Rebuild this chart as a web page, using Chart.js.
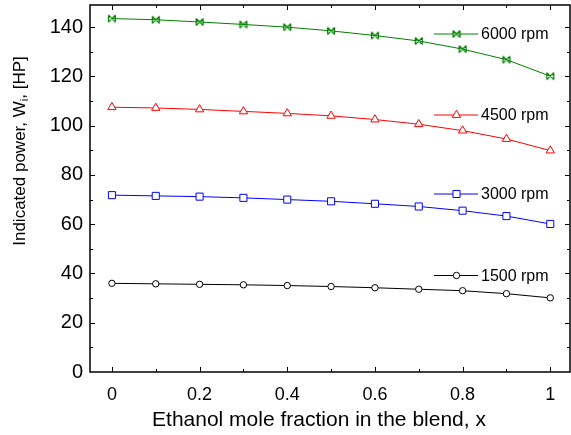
<!DOCTYPE html>
<html>
<head>
<meta charset="utf-8">
<script src="https://cdn.jsdelivr.net/npm/chart.js@4.4.0/dist/chart.umd.min.js"></script>
<style>
  html, body { margin: 0; padding: 0; background: #fff; }
</style>
</head>
<body>
<canvas id="chart" width="571" height="435"></canvas>
<script>
// data
const fractions = [0, 0.1, 0.2, 0.3, 0.4, 0.5, 0.6, 0.7, 0.8, 0.9, 1.0];
const rpm1500 = [36, 35.8, 35.6, 35.4, 35.1, 34.7, 34.2, 33.6, 33, 31.8, 30.1];
const rpm3000 = [71.8, 71.5, 71.2, 70.7, 70, 69.3, 68.3, 67.2, 65.5, 63.3, 60.1];
const rpm4500 = [107.5, 107.2, 106.6, 105.8, 105, 104, 102.5, 100.6, 98, 94.6, 89.9];
const rpm6000 = [143.5, 143, 142.1, 141.1, 140, 138.5, 136.6, 134.4, 131.1, 126.8, 120.1];
const seriesLabels = ["1500 rpm", "3000 rpm", "4500 rpm", "6000 rpm"];
const xTitle = "Ethanol mole fraction in the blend, x";

// bow-tie marker |X| used for the 6000 rpm curve
function bowTie(color) {
  const c = document.createElement("canvas");
  c.width = 10; c.height = 10;
  const g = c.getContext("2d");
  g.strokeStyle = color;
  g.lineWidth = 1.2;
  g.beginPath();
  g.moveTo(1.5, 1.5); g.lineTo(1.5, 8.5);
  g.moveTo(8.5, 1.5); g.lineTo(8.5, 8.5);
  g.moveTo(1.5, 1.5); g.lineTo(8.5, 8.5);
  g.moveTo(1.5, 8.5); g.lineTo(8.5, 1.5);
  g.stroke();
  return c;
}

const green = "#008000";
const styles = [
  { color: "#000000", point: "circle", radius: 3.2, legendY: 275.5 },
  { color: "#0000ff", point: "rect", radius: 5, legendY: 194 },
  { color: "#ff0000", point: "triangle", radius: 4.8, legendY: 115 },
  { color: green, point: bowTie(green), radius: 5, legendY: 34 },
];
const values = [rpm1500, rpm3000, rpm4500, rpm6000];

const datasets = values.map((vals, i) => ({
  label: seriesLabels[i],
  data: fractions.map((f, k) => ({ x: f, y: vals[k] })),
  borderColor: styles[i].color,
  backgroundColor: "#ffffff",
  borderWidth: 1,
  pointStyle: styles[i].point,
  pointRadius: styles[i].radius,
  pointBorderColor: styles[i].color,
  pointBackgroundColor: "#ffffff",
  pointBorderWidth: 1,
  tension: 0,
}));

const framePlugin = {
  id: "frame",
  afterDraw(chart) {
    const ctx = chart.ctx;
    const a = chart.chartArea;
    const xs = chart.scales.x, ys = chart.scales.y;
    ctx.save();
    ctx.strokeStyle = "#000";
    ctx.lineWidth = 1.5;
    ctx.strokeRect(a.left, a.top, a.right - a.left, a.bottom - a.top);

    ctx.lineWidth = 1;
    ctx.beginPath();
    for (let k = 0; k <= 10; k++) {
      const px = Math.round(xs.getPixelForValue(k / 10)) + 0.5;
      const len = k % 2 === 0 ? 5 : 3;
      ctx.moveTo(px, a.bottom); ctx.lineTo(px, a.bottom - len);
      ctx.moveTo(px, a.top); ctx.lineTo(px, a.top + len);
    }
    for (let v = 10; v <= 140; v += 10) {
      const py = Math.round(ys.getPixelForValue(v)) + 0.5;
      const len = v % 20 === 0 ? 5 : 3;
      ctx.moveTo(a.left, py); ctx.lineTo(a.left + len, py);
      ctx.moveTo(a.right, py); ctx.lineTo(a.right - len, py);
    }
    ctx.stroke();

    // legend entries, each next to its own curve
    ctx.font = "16px 'Liberation Sans', Arial, sans-serif";
    ctx.textBaseline = "middle";
    chart.data.datasets.forEach((ds, i) => {
      const y = styles[i].legendY;
      ctx.strokeStyle = ds.borderColor;
      ctx.lineWidth = 1;
      ctx.beginPath();
      ctx.moveTo(434, y); ctx.lineTo(478, y);
      ctx.stroke();
      ctx.fillStyle = "#fff";
      ctx.beginPath();
      Chart.helpers.drawPoint(ctx, {
        pointStyle: ds.pointStyle, radius: ds.pointRadius, borderWidth: 1, rotation: 0
      }, 456.5, y);
      ctx.fillStyle = "#000";
      ctx.fillText(ds.label, 481, y + 1);
    });

    // axis titles
    ctx.textAlign = "center";
    ctx.font = "21px 'Liberation Sans', Arial, sans-serif";
    ctx.fillText(xTitle, 319, 420);

    ctx.save();
    ctx.translate(20, 151);
    ctx.rotate(-Math.PI / 2);
    ctx.font = "17px 'Liberation Sans', Arial, sans-serif";
    const p1 = "Indicated power, W", sub = "i", p2 = ", [HP]";
    const w1 = ctx.measureText(p1).width, w2 = ctx.measureText(p2).width;
    ctx.font = "11px 'Liberation Sans', Arial, sans-serif";
    const ws = ctx.measureText(sub).width;
    let x0 = -(w1 + ws + w2) / 2;
    ctx.textAlign = "left";
    ctx.font = "17px 'Liberation Sans', Arial, sans-serif";
    ctx.fillText(p1, x0, 0);
    ctx.font = "11px 'Liberation Sans', Arial, sans-serif";
    ctx.fillText(sub, x0 + w1, 5);
    ctx.font = "17px 'Liberation Sans', Arial, sans-serif";
    ctx.fillText(p2, x0 + w1 + ws, 0);
    ctx.restore();

    ctx.restore();
  },
};

new Chart(document.getElementById("chart"), {
  type: "line",
  data: { datasets: datasets },
  options: {
    responsive: false,
    animation: false,
    layout: { autoPadding: false, padding: { top: 5, right: 1, left: 0, bottom: 0 } },
    plugins: { legend: { display: false }, tooltip: { enabled: false } },
    scales: {
      x: {
        type: "linear",
        min: -0.05,
        max: 1.045,
        grid: { display: false, drawTicks: false },
        border: { display: false },
        afterFit: (scale) => {
          scale.height = 63;
          scale.paddingLeft = 0;
          scale.paddingRight = 0;
        },
        ticks: {
          stepSize: 0.2,
          includeBounds: false,
          padding: 12,
          color: "#000",
          font: { family: "'Liberation Sans', Arial, sans-serif", size: 18 },
          callback: (v) => (v < 0 ? "" : String(Number(v.toFixed(1)))),
          maxRotation: 0,
        },
      },
      y: {
        min: 0,
        max: 149,
        grid: { display: false, drawTicks: false },
        border: { display: false },
        afterFit: (scale) => {
          scale.width = 90;
          scale.paddingTop = 0;
          scale.paddingBottom = 0;
        },
        ticks: {
          stepSize: 20,
          includeBounds: false,
          padding: 7,
          color: "#000",
          font: { family: "'Liberation Sans', Arial, sans-serif", size: 20 },
        },
      },
    },
  },
  plugins: [framePlugin],
});
</script>
</body>
</html>
